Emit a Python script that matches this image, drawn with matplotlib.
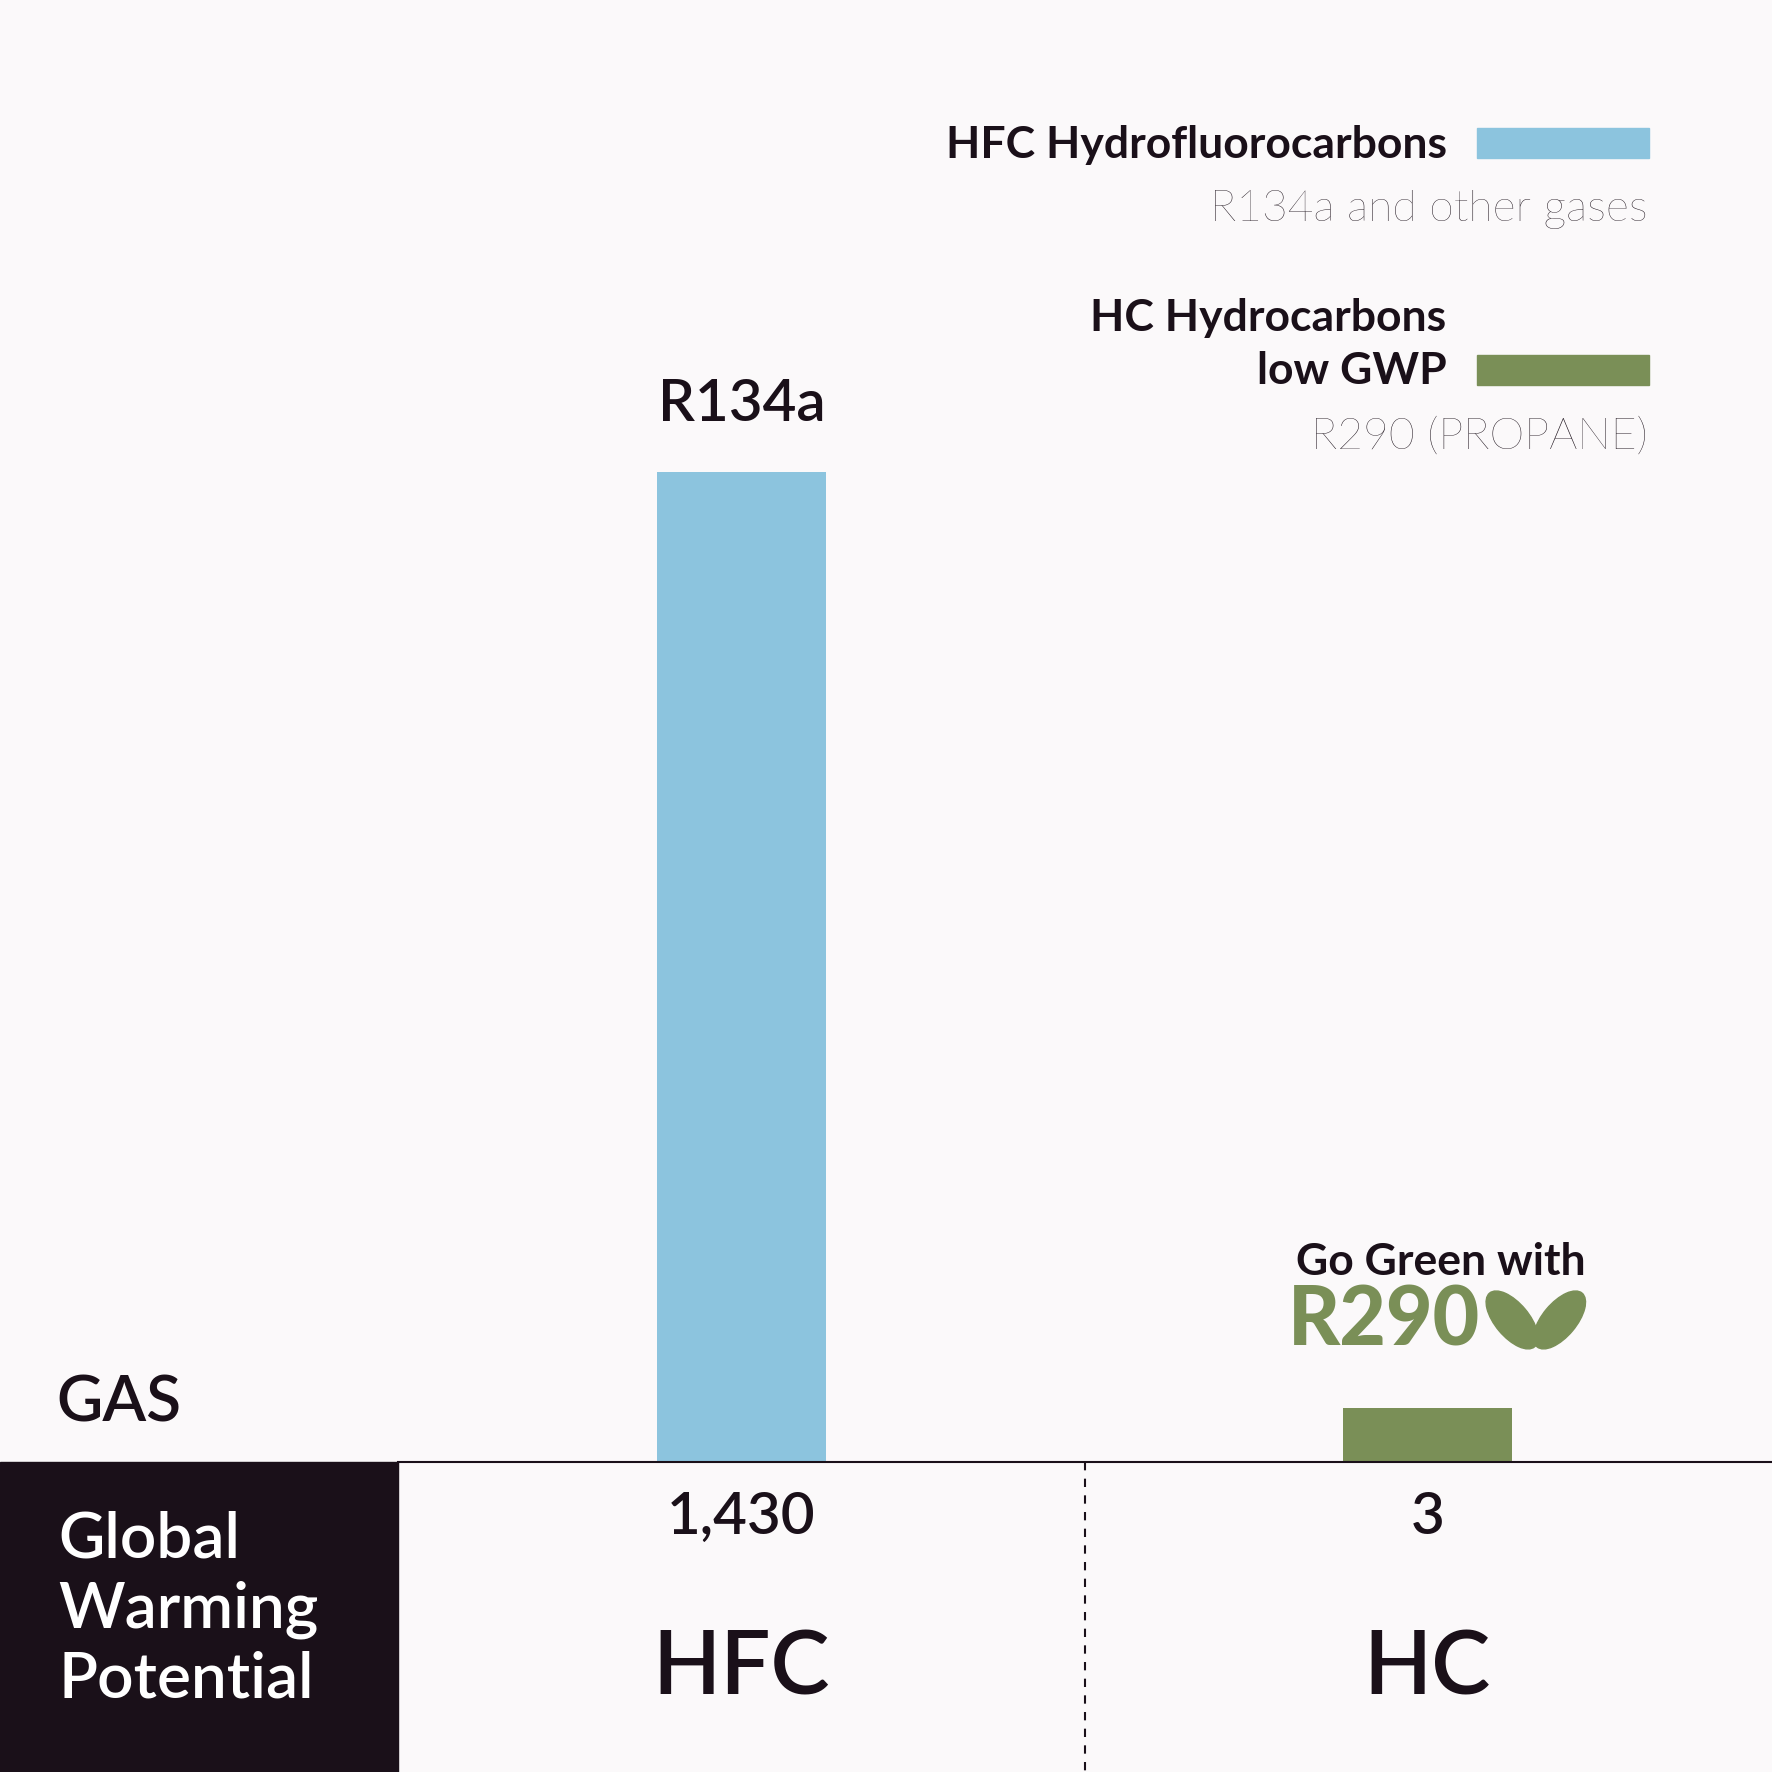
import matplotlib.pyplot as plt
from matplotlib.patches import Rectangle, Ellipse

gases = ['HFC', 'HC']
bar_labels = ['R134a', '']
gwp = [1430, 3]
gwp_text = ['1,430', '3']
colors = ['#8cc4de', '#7a8f57']
min_visible = 78  # the tiny HC bar is drawn larger than scale in the original

bg = '#fbf9fa'
dark = '#1a1019'
plt.rcParams['font.family'] = ['Lato', 'DejaVu Sans']

fig = plt.figure(figsize=(17.72, 17.72), dpi=100, facecolor=bg)
S = 1568.0


def fx(px):
    return px / S


def fy(py):
    return 1 - py / S


# main bar axes, above the baseline
ax = fig.add_axes([0, fy(1294), 1, 1294 / S])
ax.set_facecolor(bg)
ax.set_xlim(0, 1)
ax.set_ylim(0, 1430 * 1294 / 876)
ax.axis('off')
xpos = [fx(656), fx(1263)]
heights = [max(v, min_visible) for v in gwp]
ax.bar(xpos, heights, width=fx(150), color=colors)
for x, h, lab in zip(xpos, heights, bar_labels):
    if lab:
        ax.text(x, h + 60, lab, ha='center', va='bottom', fontsize=42,
                fontweight='semibold', color=dark)

# bottom table
fig.patches.append(Rectangle((0, 0), fx(352), fy(1294), transform=fig.transFigure,
                             color=dark, zorder=0))
fig.add_artist(plt.Line2D([fx(352), 1], [fy(1294)] * 2, color=dark, lw=1.5))
fig.add_artist(plt.Line2D([fx(960)] * 2, [fy(1294), 0], color=dark, lw=1.5,
                          ls=(0, (4, 4))))
for y, t in zip([1362, 1424, 1486], ['Global', 'Warming', 'Potential']):
    fig.text(fx(52), fy(y), t, color='white', fontsize=46, fontweight='semibold',
             va='center', ha='left')
fig.text(fx(50), fy(1242), 'GAS', color=dark, fontsize=46, fontweight='semibold',
         va='center')
for x, t, g in zip(xpos, gwp_text, gases):
    fig.text(x, fy(1343), t, ha='center', va='center', fontsize=42,
             fontweight='semibold', color=dark)
    fig.text(x, fy(1477), g, ha='center', va='center', fontsize=64,
             fontweight='semibold', color=dark)

# legend
def legend_rect(y0, y1, c):
    fig.patches.append(Rectangle((fx(1307), fy(y1)), fx(152), (y1 - y0) / S,
                                 transform=fig.transFigure, color=c))


legend_rect(113, 140, colors[0])
legend_rect(314, 341, colors[1])
fig.text(fx(1280), fy(128), 'HFC Hydrofluorocarbons', ha='right', va='center',
         fontsize=32, fontweight='bold', color=dark)
fig.text(fx(1458), fy(185), 'R134a and other gases', ha='right', va='center',
         fontsize=32, fontweight='light', color=dark)
fig.text(fx(1280), fy(281), 'HC Hydrocarbons', ha='right', va='center',
         fontsize=32, fontweight='bold', color=dark)
fig.text(fx(1280), fy(328), 'low GWP', ha='right', va='center',
         fontsize=32, fontweight='bold', color=dark)
fig.text(fx(1458), fy(387), 'R290 (PROPANE)', ha='right', va='center',
         fontsize=32, fontweight='light', color=dark)

# Go Green badge
fig.text(fx(1275), fy(1117), 'Go Green with', ha='center', va='center',
         fontsize=32, fontweight='bold', color=dark)
fig.text(fx(1140), fy(1170), 'R290', ha='left', va='center', fontsize=58,
         fontweight='black', color=colors[1])
fig.patches.append(Ellipse((fx(1338), fy(1168)), fx(30), fx(62), angle=40,
                           transform=fig.transFigure, color=colors[1]))
fig.patches.append(Ellipse((fx(1380), fy(1168)), fx(30), fx(62), angle=-40,
                           transform=fig.transFigure, color=colors[1]))

fig.savefig('out.png', dpi=100, facecolor=bg)
